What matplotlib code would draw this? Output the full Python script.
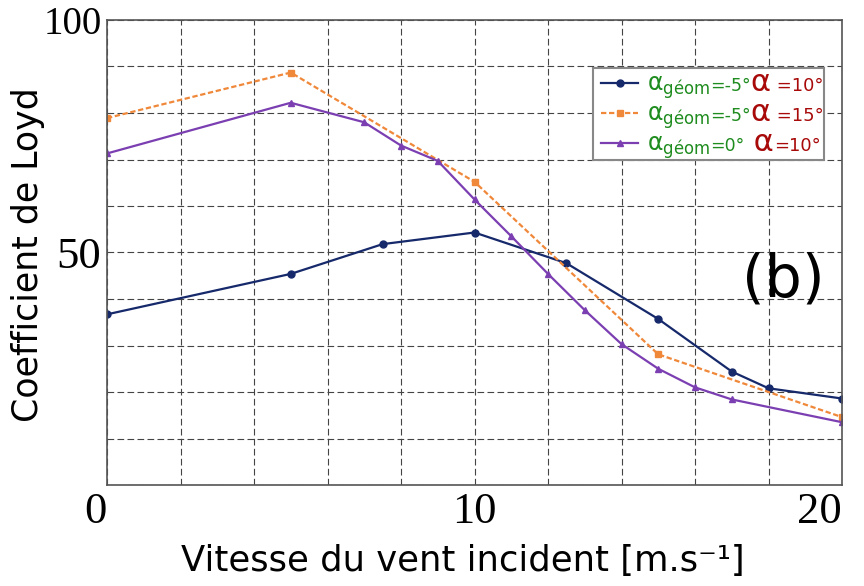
import matplotlib
matplotlib.use("Agg")
import matplotlib.pyplot as plt
from matplotlib.offsetbox import TextArea, HPacker, AnnotationBbox

# wind speed [m/s] and Lloyd coefficient for each configuration
speed_a = [0, 5, 7.5, 10, 12.5, 15, 17, 18, 20]
lloyd_a = [36.7, 45.4, 51.8, 54.3, 47.7, 35.7, 24.4, 20.8, 18.6]

speed_b = [0, 5, 10, 15, 20]
lloyd_b = [78.9, 88.7, 65.2, 28.1, 14.6]

speed_c = [0, 5, 7, 8, 9, 10, 11, 12, 13, 14, 15, 16, 17, 20]
lloyd_c = [71.3, 82.2, 78.0, 73.0, 69.7, 61.4, 53.5, 45.4, 37.6, 30.3,
           25.0, 21.0, 18.4, 13.5]

geom_labels = ["-5°", "-5°", "0°"]
alpha_labels = [" =10°", " =15°", "=10°"]

x_ticks = list(range(0, 21, 2))
x_ticklabels = ["0", "", "", "", "", "10", "", "", "", "", "20"]
y_ticks = list(range(0, 101, 10))
y_ticklabels = ["", "", "", "", "", "50", "", "", "", "", "100"]

NAVY = "#16296b"
ORANGE = "#f0883a"
PURPLE = "#7b3fb2"
GREEN = "#1f8c1f"
RED = "#a80a0a"


def main():
    plt.rcParams["mathtext.fontset"] = "dejavusans"
    fig = plt.figure(figsize=(8.64, 5.86), dpi=100)
    ax = fig.add_axes([107 / 864, 1 - 485 / 586, 735 / 864, 465 / 586])

    la, = ax.plot(speed_a, lloyd_a, color=NAVY, lw=1.6, marker="o", ms=5)
    lb, = ax.plot(speed_b, lloyd_b, color=ORANGE, lw=1.6, marker="s", ms=4.5,
                  linestyle=(0, (2.4, 1.2)))
    lc, = ax.plot(speed_c, lloyd_c, color=PURPLE, lw=1.6, marker="^", ms=5)

    ax.set_xlim(0, 20)
    ax.set_ylim(0, 100)
    ax.set_xticks(x_ticks, x_ticklabels)
    ax.set_yticks(y_ticks, y_ticklabels)
    ax.grid(True, color="#444444", lw=0.8, linestyle=(0, (6, 3)))
    ax.set_axisbelow(True)
    ax.tick_params(length=0, labelsize=32)
    ax.tick_params(axis="x", pad=5)
    ax.tick_params(axis="y", pad=4)
    for lab in ax.get_xticklabels() + ax.get_yticklabels():
        lab.set_fontfamily("Liberation Serif")
    xl = ax.get_xticklabels()
    xl[0].set_horizontalalignment("right")
    xl[-1].set_horizontalalignment("right")
    ax.get_yticklabels()[-1].set_fontsize(28)

    for side in ax.spines.values():
        side.set_color("#555555")
        side.set_linewidth(1.2)

    ax.set_xlabel("Vitesse du vent incident [m.s⁻¹]", fontsize=25.5)
    ax.xaxis.label.set_verticalalignment("baseline")
    ax.xaxis.set_label_coords(0.484, -0.185)
    ax.set_ylabel("Coefficient de Loyd", fontsize=25)
    ax.yaxis.label.set_verticalalignment("center")
    ax.yaxis.set_label_coords(-0.1075, 0.4946)

    ax.text(0.92, 0.406, "(b)", transform=ax.transAxes, fontsize=42,
            ha="center", va="baseline")

    leg = ax.legend([la, lb, lc], ["", "", ""], loc="upper left",
                    bbox_to_anchor=(0.661, 0.896), borderaxespad=0,
                    fontsize=11, handlelength=2.4, handletextpad=11.6,
                    borderpad=0.55, labelspacing=0.97, fancybox=False,
                    edgecolor="#888888", framealpha=1)
    leg.get_frame().set_linewidth(1.5)

    # coloured two-part labels next to each legend handle
    for handle, geom, alpha in zip(leg.legend_handles, geom_labels, alpha_labels):
        parts = [
            TextArea(r"$\mathregular{α_{géom}}$",
                     textprops=dict(color=GREEN, fontsize=17)),
            TextArea("=" + geom, textprops=dict(color=GREEN, fontsize=12.5)),
            TextArea("α" if alpha.startswith(" ") else " α",
                     textprops=dict(color=RED, fontsize=22)),
            TextArea(alpha, textprops=dict(color=RED, fontsize=13)),
        ]
        box = HPacker(children=parts, align="baseline", pad=0, sep=0)
        ab = AnnotationBbox(box, (1, 0.5), xycoords=handle,
                            xybox=(4, -1), boxcoords="offset points",
                            box_alignment=(0, 0.5), frameon=False, pad=0)
        ab.set_zorder(6)
        ax.add_artist(ab)

    fig.savefig("out.png", dpi=100)


if __name__ == "__main__":
    main()
